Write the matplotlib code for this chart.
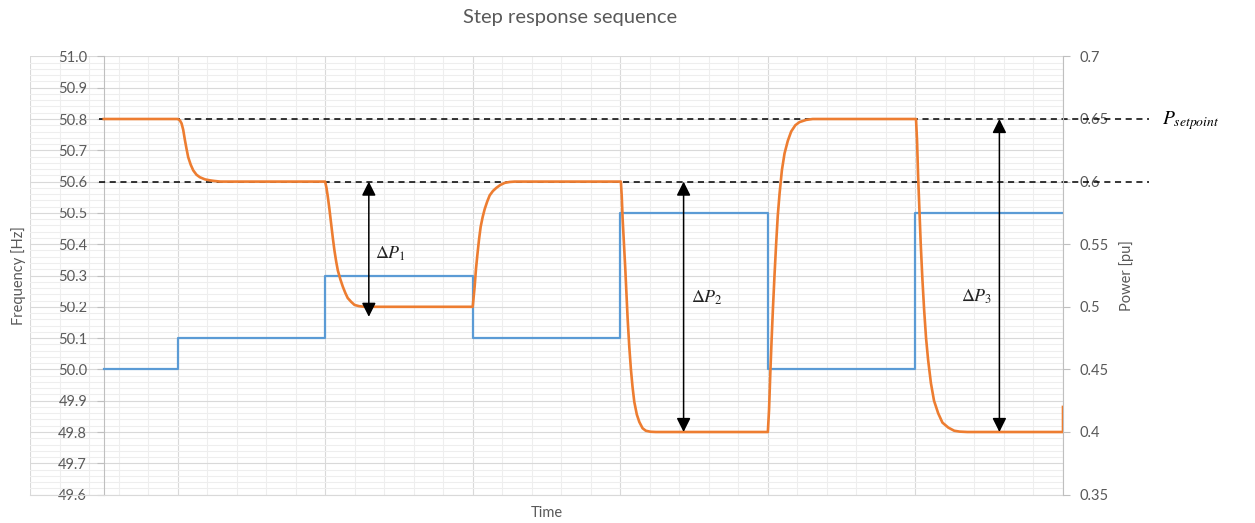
import numpy as np
import matplotlib.pyplot as plt
from matplotlib.ticker import MultipleLocator, FuncFormatter

plt.rcParams['font.family'] = ['Lato', 'DejaVu Sans']
plt.rcParams['mathtext.fontset'] = 'stix'

# Frequency steps (blue), step value holds until next time
freq_t = [0.5, 1, 2, 3, 4, 5, 6, 7]
freq_hz = [50.0, 50.1, 50.3, 50.1, 50.5, 50.0, 50.5, 50.5]

# Power response (orange)
power_t = [0.5,
           1.000, 1.015, 1.027, 1.038, 1.050, 1.061, 1.072, 1.089, 1.106, 1.128,
           1.151, 1.185, 1.219, 1.250, 1.290,
           2.000, 2.009, 2.018, 2.029, 2.040, 2.052, 2.063, 2.075, 2.086, 2.103,
           2.120, 2.137, 2.153, 2.176, 2.199, 2.230, 2.267,
           3.000, 3.013, 3.022, 3.032, 3.043, 3.054, 3.067, 3.081, 3.098, 3.115,
           3.137, 3.160, 3.187, 3.217, 3.250, 3.284,
           4.004, 4.010, 4.016, 4.025, 4.034, 4.042, 4.050, 4.061, 4.072, 4.083,
           4.095, 4.112, 4.129, 4.151, 4.173, 4.205, 4.241,
           5.000, 5.008, 5.016, 5.025, 5.034, 5.045, 5.056, 5.067, 5.079, 5.095,
           5.113, 5.135, 5.158, 5.186, 5.214, 5.260, 5.304,
           6.004, 6.011, 6.018, 6.027, 6.036, 6.047, 6.059, 6.072, 6.086, 6.105,
           6.126, 6.154, 6.183, 6.223, 6.263, 6.300, 6.352,
           7.0, 7.0]
power_pu = [0.65,
            0.650, 0.649, 0.6465, 0.6415, 0.633, 0.626, 0.6195, 0.6135, 0.609, 0.6055,
            0.6035, 0.6018, 0.601, 0.6005, 0.600,
            0.600, 0.595, 0.588, 0.578, 0.567, 0.555, 0.545, 0.536, 0.529, 0.522,
            0.516, 0.511, 0.507, 0.504, 0.5015, 0.5005, 0.500,
            0.500, 0.516, 0.530, 0.542, 0.554, 0.564, 0.5715, 0.578, 0.584, 0.589,
            0.5925, 0.595, 0.5973, 0.599, 0.5997, 0.600,
            0.600, 0.588, 0.570, 0.550, 0.530, 0.510, 0.490, 0.468, 0.450, 0.436,
            0.424, 0.414, 0.408, 0.403, 0.401, 0.4002, 0.400,
            0.400, 0.4175, 0.445, 0.4725, 0.4975, 0.525, 0.550, 0.5725, 0.590, 0.609,
            0.6225, 0.6325, 0.640, 0.645, 0.6475, 0.6493, 0.650,
            0.650, 0.6325, 0.605, 0.5775, 0.550, 0.5225, 0.4975, 0.475, 0.4575, 0.439,
            0.425, 0.415, 0.4075, 0.4035, 0.401, 0.4003, 0.400,
            0.400, 0.42]

setpoints = [0.65, 0.6]
# delta arrows: (time, top, bottom, label, label time, label power)
deltas = [(2.296, 0.60, 0.492, r'$\Delta P_1$', 2.34, 0.542),
          (4.429, 0.60, 0.40, r'$\Delta P_2$', 4.48, 0.507),
          (6.569, 0.65, 0.40, r'$\Delta P_3$', 6.31, 0.508)]

txt = '#595959'
blue = '#5b9bd5'
orange = '#ed7d31'

fig = plt.figure(figsize=(12.55, 5.23), dpi=100)
ax = fig.add_axes([30/1255, 1 - 494.6/523, 1033/1255, 438.2/523])
ax2 = ax.twinx()

ax.set_xlim(0, 7)
ax.set_ylim(49.6, 51.0)
ax2.set_ylim(0.35, 0.7)

# grid
ax.xaxis.set_major_locator(MultipleLocator(1))
ax.xaxis.set_minor_locator(MultipleLocator(0.2))
ax.yaxis.set_major_locator(MultipleLocator(0.1))
ax.yaxis.set_minor_locator(MultipleLocator(0.02))
ax.grid(which='minor', color='#eeeeee', lw=0.8, zorder=0)
ax.grid(which='major', color='#d9d9d9', lw=0.8, zorder=0)
ax.set_axisbelow(True)
ax.tick_params(axis='x', which='both', length=0, labelbottom=False)
ax.tick_params(axis='y', which='minor', length=0)
ax.tick_params(axis='y', which='major', length=5, width=0.8, color='#bfbfbf',
               labelcolor=txt, labelsize=10.5, pad=7)
ax.yaxis.set_major_formatter(FuncFormatter(lambda v, p: '%.1f' % v))

ax.spines['left'].set_position(('data', 0.5))
ax.spines['left'].set_color('#bfbfbf')
ax.spines['bottom'].set_color('#d9d9d9')
for s in ['top', 'right']:
    ax.spines[s].set_visible(False)
for s in ['top', 'left', 'bottom']:
    ax2.spines[s].set_visible(False)
ax2.spines['right'].set_color('#bfbfbf')

ax2.yaxis.set_major_locator(MultipleLocator(0.05))
ax2.yaxis.set_major_formatter(FuncFormatter(lambda v, p: ('%.2f' % v).rstrip('0')))
ax2.tick_params(axis='y', length=5, width=0.8, color='#bfbfbf',
                labelcolor=txt, labelsize=10.5, pad=7)

# series
ax.step(freq_t, freq_hz, where='post', color=blue, lw=1.6, zorder=3)
for sp in setpoints:
    ax2.plot([0.465, 7.585], [sp, sp], color='black', lw=1.1,
             linestyle=(0, (4, 3)), clip_on=False, zorder=2)
ax2.plot(power_t, power_pu, color=orange, lw=1.9, zorder=3,
         solid_joinstyle='round')

for t, top, bot, lab, lt, lp in deltas:
    ax2.annotate('', xy=(t, top), xytext=(t, bot),
                 arrowprops=dict(arrowstyle='<|-|>,head_length=0.6,head_width=0.3',
                                 color='black', lw=1.1, mutation_scale=14,
                                 shrinkA=0, shrinkB=0), zorder=4)
    ax2.text(lt, lp, lab, fontsize=13, va='center', ha='left', color='#222222')

ax2.text(7.673, 0.649, r'$P_{setpoint}$', fontsize=14, va='center', ha='left',
         color='black')

ax.set_xlabel('Time', color=txt, fontsize=10.5)
ax.xaxis.set_label_coords(0.5, -0.025)
ax.set_ylabel('Frequency [Hz]', color=txt, fontsize=10.5)
ax.yaxis.set_label_coords(-0.004, 0.5)
ax2.set_ylabel('Power [pu]', color=txt, fontsize=10.5)
ax2.yaxis.set_label_coords(1.054, 0.5)

fig.text(570/1255, 1 - 18/523, 'Step response sequence', ha='center', va='center',
         fontsize=14.5, color=txt)

fig.savefig('out.png', dpi=100)
